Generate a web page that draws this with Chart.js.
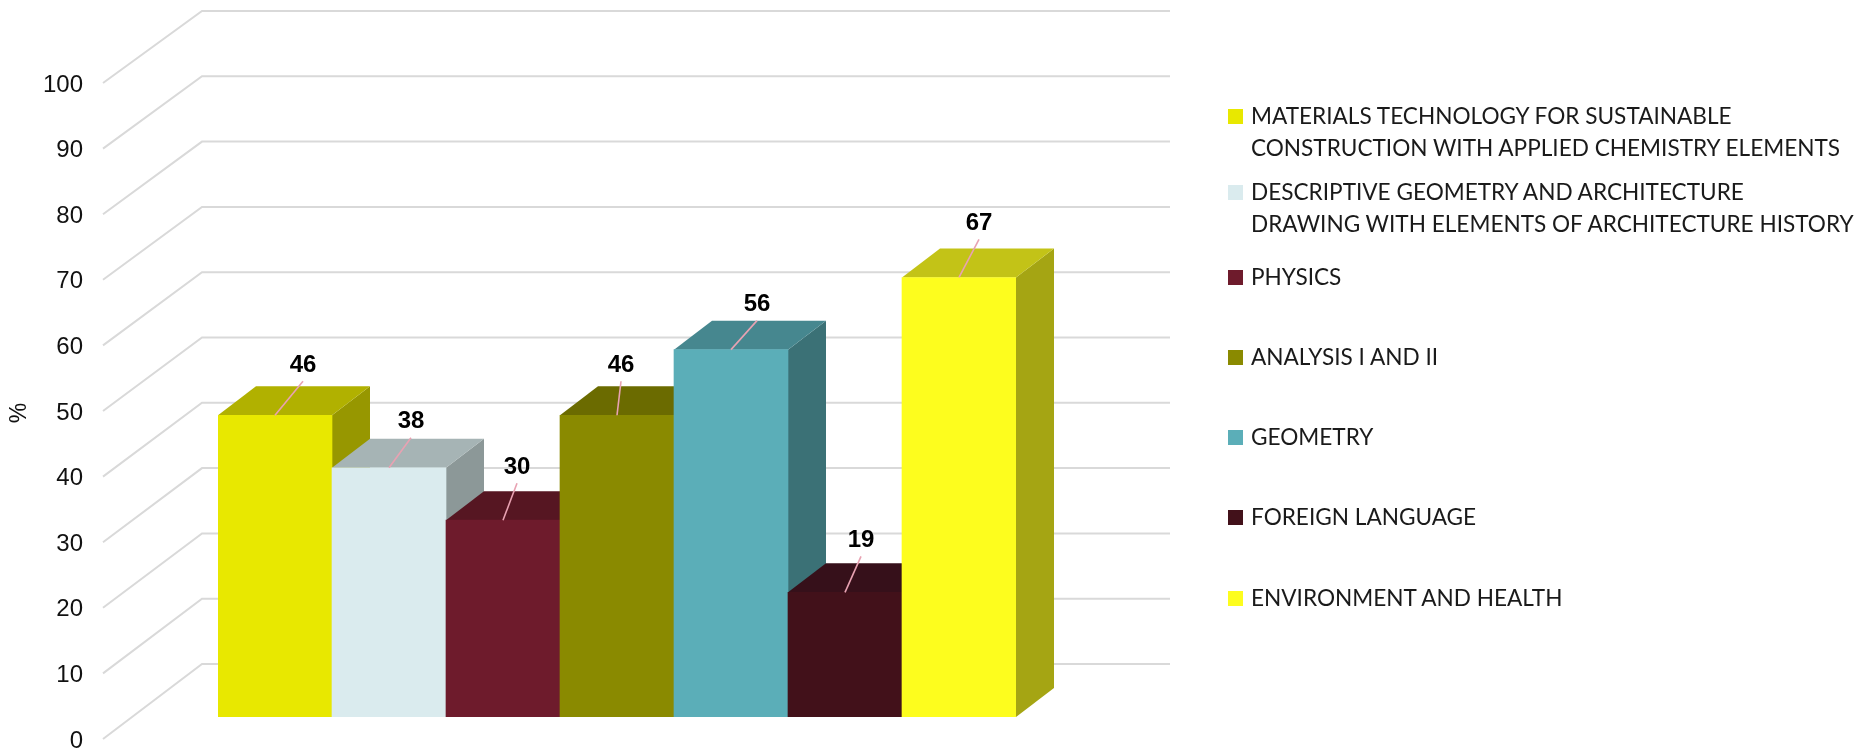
<!DOCTYPE html>
<html lang="en">
<head>
    <meta charset="UTF-8">
    <title>Subjects chart</title>
    <script src="https://cdn.jsdelivr.net/npm/chart.js"></script>
    <style>
        body { margin: 0; background: #fff; overflow: hidden; }
        #wrap { position: relative; width: 1858px; height: 749px; }
        #chart { display: block; }
        #legend { position: absolute; left: 0; top: 0; font-family: Lato, 'Open Sans', sans-serif; font-size: 22.6px; color: #1a1a1a; }
        .item { position: absolute; left: 1228px; white-space: nowrap; }
        .box { position: absolute; left: 0; top: -7px; width: 15px; height: 15px; }
        .txt { position: absolute; left: 23px; top: -16px; line-height: 32px; }
    </style>
</head>
<body>
<div id="wrap">
    <canvas id="chart" width="1858" height="749"></canvas>
    <div id="legend"></div>
</div>
<script>
    const subjects = [
        ['MATERIALS TECHNOLOGY FOR SUSTAINABLE', 'CONSTRUCTION WITH APPLIED CHEMISTRY ELEMENTS'],
        ['DESCRIPTIVE GEOMETRY AND ARCHITECTURE', 'DRAWING WITH ELEMENTS OF ARCHITECTURE HISTORY'],
        ['PHYSICS'],
        ['ANALYSIS I AND II'],
        ['GEOMETRY'],
        ['FOREIGN LANGUAGE'],
        ['ENVIRONMENT AND HEALTH']
    ];
    const values = [46, 38, 30, 46, 56, 19, 67];
    const yTickValues = [0, 10, 20, 30, 40, 50, 60, 70, 80, 90, 100];
    const yTitle = '%';

    // face colours: front / top / side
    const frontColors = ['#e8e800', '#daebee', '#6e1b2c', '#8a8a00', '#5baeb8', '#42111a', '#fdfd1e'];
    const topColors   = ['#b1b100', '#a6b4b5', '#561622', '#6b6b00', '#46878f', '#36101a', '#c3c317'];
    const sideColors  = ['#979700', '#8c9898', '#4a121d', '#5c5c00', '#3b7176', '#2e0c12', '#a5a513'];

    // hand placed label nudges (like the original)
    const labelDx = [28, 22, 14, 4, 26, 16, 20];
    const labelDy = [51, 47, 54, 51, 46, 53, 55];

    const DEPTH_X = 38, DEPTH_Y = 29;
    const FRONT_DY = 22;
    const FONT = "'Liberation Sans', Arial, sans-serif";

    // legend
    const legendTops = [116, 192, 277, 357, 437, 517, 598];
    const legend = document.getElementById('legend');
    subjects.forEach((lines, i) => {
        const item = document.createElement('div');
        item.className = 'item';
        item.style.top = legendTops[i] + 'px';
        item.innerHTML = '<div class="box" style="background:' + frontColors[i] + '"></div>' +
            '<div class="txt">' + lines.join('<br>') + '</div>';
        legend.appendChild(item);
    });

    const box3d = {
        id: 'box3d',
        beforeDatasetsDraw(chart) {
            const {ctx, chartArea} = chart;
            const y = chart.scales.y;
            // walls
            ctx.save();
            ctx.strokeStyle = '#d9d9d9';
            ctx.lineWidth = 2;
            yTickValues.forEach(v => {
                const py = y.getPixelForValue(v);
                const fy = py + FRONT_DY, by = py - 53 + v * 0.03;
                ctx.beginPath();
                ctx.moveTo(chartArea.left - 115, fy);
                ctx.lineTo(chartArea.left - 16, by);
                ctx.lineTo(chartArea.right + 154, by);
                ctx.stroke();
            });
            // tops and sides
            const meta = chart.getDatasetMeta(0);
            meta.data.forEach((bar, i) => {
                const l = bar.x - bar.width / 2, r = bar.x + bar.width / 2;
                const t = bar.y, b = bar.base;
                ctx.fillStyle = sideColors[i];
                ctx.beginPath();
                ctx.moveTo(r, t);
                ctx.lineTo(r + DEPTH_X, t - DEPTH_Y);
                ctx.lineTo(r + DEPTH_X, b - DEPTH_Y);
                ctx.lineTo(r, b);
                ctx.closePath();
                ctx.fill();
                ctx.fillStyle = topColors[i];
                ctx.beginPath();
                ctx.moveTo(l, t);
                ctx.lineTo(r, t);
                ctx.lineTo(r + DEPTH_X, t - DEPTH_Y);
                ctx.lineTo(l + DEPTH_X, t - DEPTH_Y);
                ctx.closePath();
                ctx.fill();
            });
            ctx.restore();
        },
        afterDatasetsDraw(chart) {
            const {ctx} = chart;
            const y = chart.scales.y;
            const meta = chart.getDatasetMeta(0);
            ctx.save();
            ctx.font = 'bold 24px ' + FONT;
            ctx.textAlign = 'center';
            ctx.textBaseline = 'middle';
            meta.data.forEach((bar, i) => {
                const cx = bar.x + labelDx[i], cy = bar.y - labelDy[i];
                ctx.strokeStyle = '#e8a2b2';
                ctx.lineWidth = 1.6;
                ctx.beginPath();
                ctx.moveTo(cx, cy + 17);
                ctx.lineTo(bar.x, bar.y);
                ctx.stroke();
                ctx.fillStyle = '#000';
                ctx.fillText(values[i], cx, cy + 1);
            });
            // axis title, level with the front plane's middle tick
            ctx.font = '23px ' + FONT;
            ctx.fillStyle = '#111';
            ctx.translate(y.left + 20, y.getPixelForValue(50) + FRONT_DY + 2);
            ctx.rotate(-Math.PI / 2);
            ctx.fillText(yTitle, 0, 0);
            ctx.restore();
        }
    };

    new Chart(document.getElementById('chart'), {
        type: 'bar',
        data: {
            labels: subjects.map(s => s.join(' ')),
            datasets: [{
                data: values,
                backgroundColor: frontColors,
                borderWidth: 0,
                barPercentage: 1,
                categoryPercentage: 1
            }]
        },
        options: {
            responsive: false,
            animation: false,
            layout: { padding: { left: 0, top: 61, right: 842, bottom: 32 } },
            plugins: { legend: { display: false }, tooltip: { enabled: false } },
            scales: {
                x: { display: false },
                y: {
                    min: 0,
                    max: 100,
                    afterBuildTicks: s => { s.ticks = yTickValues.map(v => ({ value: v })); },
                    afterFit: s => {
                        // labels sit far left of the bars; keep the big tick padding out of the vertical layout
                        s.width = 218;
                        s.paddingTop = 0;
                        s.paddingBottom = 0;
                    },
                    grid: { display: false, drawTicks: false },
                    border: { display: false },
                    ticks: { padding: 135, labelOffset: FRONT_DY + 2, color: '#111', font: { family: FONT, size: 24 } }
                }
            }
        },
        plugins: [box3d]
    });
</script>
</body>
</html>
